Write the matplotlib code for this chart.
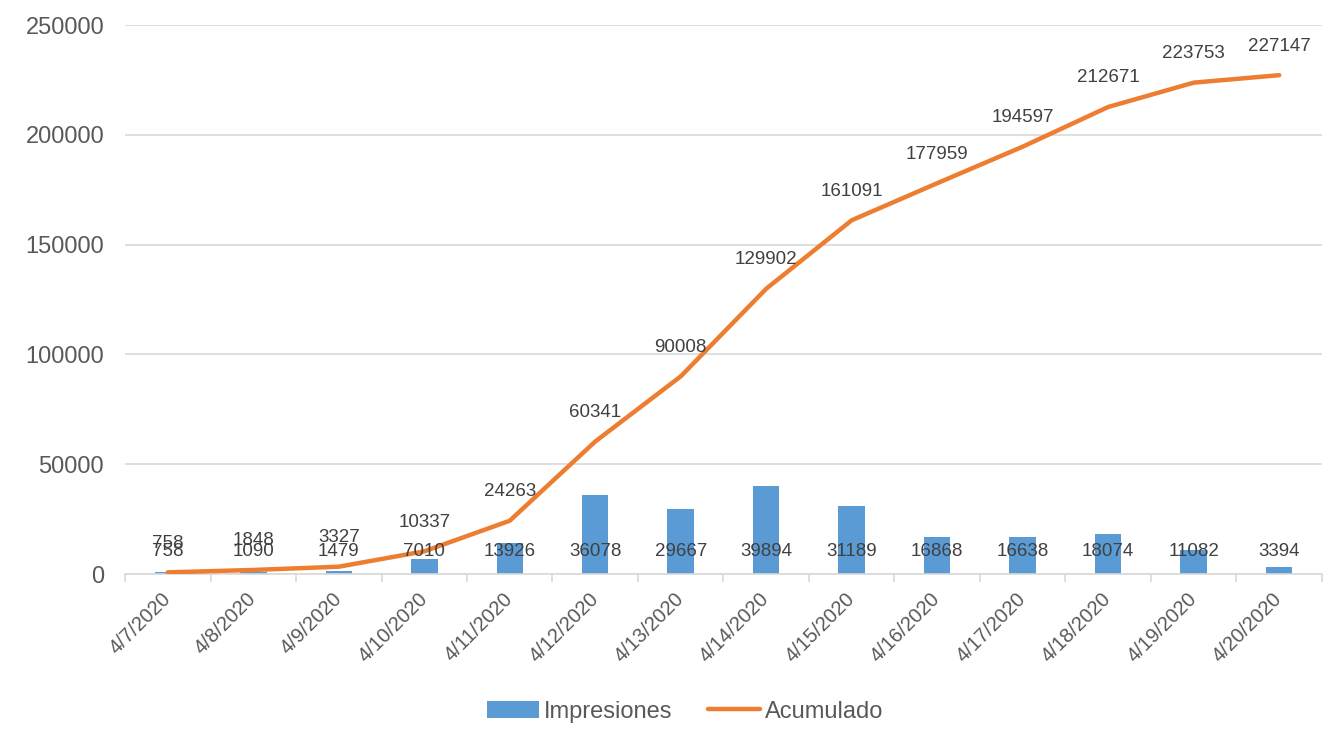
import matplotlib
matplotlib.use("Agg")
import matplotlib.pyplot as plt
import numpy as np

dates = ["4/7/2020", "4/8/2020", "4/9/2020", "4/10/2020", "4/11/2020", "4/12/2020",
         "4/13/2020", "4/14/2020", "4/15/2020", "4/16/2020", "4/17/2020", "4/18/2020",
         "4/19/2020", "4/20/2020"]
impresiones = [758, 1090, 1479, 7010, 13926, 36078, 29667, 39894, 31189, 16868,
               16638, 18074, 11082, 3394]
acumulado = [758, 1848, 3327, 10337, 24263, 60341, 90008, 129902, 161091, 177959,
             194597, 212671, 223753, 227147]
yticks = [0, 50000, 100000, 150000, 200000, 250000]

plt.rcParams['font.family'] = ['Liberation Sans', 'DejaVu Sans']

fig = plt.figure(figsize=(13.33, 7.29), dpi=100)
ax = fig.add_axes([0.0938, 0.2126, 0.8979, 0.7531])

x = np.arange(len(dates))
bars = ax.bar(x, impresiones, width=0.31, color="#5B9BD5", label="Impresiones", zorder=2)
line, = ax.plot(x, acumulado, color="#ED7D31", lw=3.2, solid_capstyle="round",
                label="Acumulado", zorder=3)

for xi, v in zip(x, impresiones):
    ax.annotate(str(v), (xi, 0), xytext=(0, 16), textcoords="offset points",
                ha="center", va="center", fontsize=13.5, color="#404040", zorder=4)
for xi, v in zip(x, acumulado):
    ax.annotate(str(v), (xi, v), xytext=(0, 21), textcoords="offset points",
                ha="center", va="center", fontsize=13.5, color="#404040", zorder=4)

ax.set_xlim(-0.5, len(dates) - 0.5)
ax.set_ylim(0, 250000)
ax.set_yticks(yticks)
ax.set_yticklabels([str(t) for t in yticks], fontsize=17, color="#595959")
ax.yaxis.grid(True, color="#D9D9D9", lw=1.2, zorder=0)
ax.set_axisbelow(True)

ax.set_xticks(x)
ax.set_xticklabels(dates, rotation=45, ha="right", rotation_mode="anchor",
                   va="center", fontsize=14.5, color="#595959")
ax.tick_params(axis="x", which="major", length=0, pad=16)
ax.set_xticks(np.arange(-0.5, len(dates), 1.0), minor=True)
ax.tick_params(axis="x", which="minor", length=6, color="#D9D9D9", width=1.2)
ax.tick_params(axis="y", length=0, pad=15)

for s in ["top", "right", "left"]:
    ax.spines[s].set_visible(False)
ax.spines["bottom"].set_color("#D9D9D9")
ax.spines["bottom"].set_linewidth(1.2)

leg = fig.legend(handles=[bars, line], labels=["Impresiones", "Acumulado"],
                 loc="center", bbox_to_anchor=(0.514, 0.024), ncol=2, frameon=False,
                 fontsize=17, handlelength=2.2, handletextpad=0.2, columnspacing=1.5)
for t in leg.get_texts():
    t.set_color("#595959")

fig.savefig("out.png", dpi=100)
